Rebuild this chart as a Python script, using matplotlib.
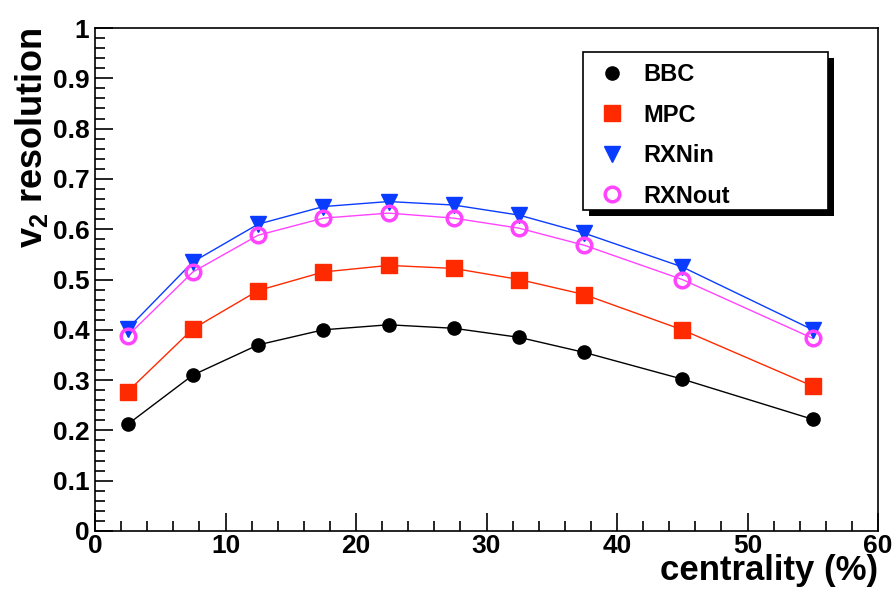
import matplotlib
matplotlib.use("Agg")
import matplotlib.pyplot as plt
from matplotlib.patches import Rectangle
from matplotlib.ticker import MultipleLocator

plt.rcParams['font.family'] = ['Liberation Sans', 'DejaVu Sans']
plt.rcParams['mathtext.fontset'] = 'custom'
plt.rcParams['mathtext.rm'] = 'Liberation Sans:bold'
plt.rcParams['mathtext.it'] = 'Liberation Sans:bold'
plt.rcParams['mathtext.bf'] = 'Liberation Sans:bold'

centrality = [2.5, 7.5, 12.5, 17.5, 22.5, 27.5, 32.5, 37.5, 45, 55]
bbc = [0.212, 0.310, 0.370, 0.400, 0.410, 0.403, 0.385, 0.355, 0.302, 0.222]
mpc = [0.277, 0.402, 0.478, 0.515, 0.528, 0.522, 0.500, 0.470, 0.400, 0.288]
rxnin = [0.402, 0.535, 0.610, 0.645, 0.655, 0.648, 0.628, 0.592, 0.525, 0.400]
rxnout = [0.388, 0.515, 0.588, 0.622, 0.632, 0.622, 0.602, 0.568, 0.500, 0.383]

x_ticks = [0, 10, 20, 30, 40, 50, 60]
y_ticks = [0, 0.1, 0.2, 0.3, 0.4, 0.5, 0.6, 0.7, 0.8, 0.9, 1]
y_ticklabels = ['0', '0.1', '0.2', '0.3', '0.4', '0.5', '0.6', '0.7', '0.8', '0.9', '1']

fig = plt.figure(figsize=(8.92, 5.89), dpi=100)
ax = fig.add_axes([95/892, 58/589, 783/892, 503/589])

series = [
    (bbc, 'BBC', 'o', '#000000', '#000000', 9.5, dict()),
    (mpc, 'MPC', 's', '#ff2a00', '#ff2a00', 11.5, dict()),
    (rxnin, 'RXNin', 'v', '#0a3cff', '#0a3cff', 11, dict()),
    (rxnout, 'RXNout', 'o', '#ff44ff', '#ff44ff', 10.5, dict(markerfacecolor='none', markeredgewidth=2.5)),
]
handles = []
for vals, lab, mk, lc, mc, ms, extra in series:
    ax.plot(centrality, vals, '-', color=lc, lw=1.0, zorder=2)
    h, = ax.plot(centrality, vals, linestyle='none', marker=mk, color=mc,
                 markersize=ms, label=lab, zorder=3, **extra)
    handles.append(h)

ax.set_xlim(0, 60)
ax.set_ylim(0, 1)
ax.set_xticks(x_ticks)
ax.set_xticklabels([str(t) for t in x_ticks])
ax.set_yticks(y_ticks)
ax.set_yticklabels(y_ticklabels)
ax.xaxis.set_minor_locator(MultipleLocator(2))
ax.yaxis.set_minor_locator(MultipleLocator(0.02))
ax.tick_params(which='both', direction='in', top=False, right=False,
               labelsize=19, width=1.2, colors='black')
ax.tick_params(which='major', length=13)
ax.tick_params(which='minor', length=7)
for lbl in ax.get_xticklabels() + ax.get_yticklabels():
    lbl.set_fontweight('bold')
ax.tick_params(axis='x', pad=2)
ax.tick_params(axis='y', pad=4)
for s in ax.spines.values():
    s.set_linewidth(1.2)

ax.set_xlabel('centrality (%)', fontsize=25, fontweight='bold', loc='right', labelpad=-3)
ax.set_ylabel(r'v$_{2}$ resolution', fontsize=26, fontweight='bold', loc='top', labelpad=2)

# legend box with shadow (ROOT style)
lx0, lx1 = 0.623, 0.936
ly0, ly1 = 0.638, 0.952
shadow = Rectangle((lx0 + 0.008, ly0 - 0.012), lx1 - lx0, ly1 - ly0,
                   transform=ax.transAxes, facecolor='black', edgecolor='none',
                   zorder=5, clip_on=False)
box = Rectangle((lx0, ly0), lx1 - lx0, ly1 - ly0, transform=ax.transAxes,
                facecolor='white', edgecolor='black', linewidth=1.2,
                zorder=5.5, clip_on=False)
ax.add_patch(shadow)
ax.add_patch(box)

leg = ax.legend(handles=handles, loc='upper left',
                bbox_to_anchor=(0.645, 0.930), frameon=False,
                prop={'weight': 'bold', 'size': 17},
                labelspacing=0.74, handletextpad=0.85, borderpad=0,
                handlelength=1.0, borderaxespad=0)
leg.set_zorder(6)

fig.savefig('out.png', dpi=100)
